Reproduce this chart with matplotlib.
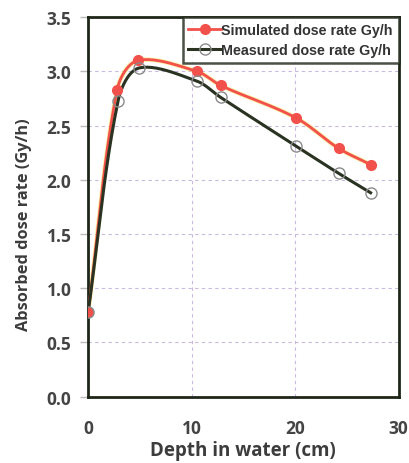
import matplotlib.pyplot as plt
import numpy as np

depth_sim = [0, 2.8, 4.8, 10.5, 12.8, 20.1, 24.2, 27.3]
dose_sim = [0.78, 2.83, 3.10, 3.00, 2.87, 2.57, 2.29, 2.14]
depth_meas = [0, 2.9, 4.9, 10.5, 12.8, 20.1, 24.2, 27.3]
dose_meas = [0.78, 2.73, 3.03, 2.91, 2.76, 2.31, 2.06, 1.88]
xticks = [0, 10, 20, 30]
yticks = [0.0, 0.5, 1.0, 1.5, 2.0, 2.5, 3.0, 3.5]


def gladka(x, y, sx=10.2, sy=108.0, n=25):
    """wygladzona linia (Catmull-Rom z parametryzacja dlugoscia cieciw)"""
    p = np.column_stack([np.asarray(x, float) * sx, np.asarray(y, float) * sy])
    d = np.linalg.norm(np.diff(p, axis=0), axis=1)
    m = np.zeros_like(p)
    m[0] = (p[1] - p[0]) / d[0]
    m[-1] = (p[-1] - p[-2]) / d[-1]
    for i in range(1, len(p) - 1):
        m[i] = (p[i + 1] - p[i - 1]) / (d[i - 1] + d[i])
    out = []
    t = np.linspace(0, 1, n)[:, None]
    for i in range(len(p) - 1):
        p1, p2 = p[i], p[i + 1]
        c1 = p1 + m[i] * d[i] / 3
        c2 = p2 - m[i + 1] * d[i] / 3
        seg = (1 - t) ** 3 * p1 + 3 * (1 - t) ** 2 * t * c1 + 3 * (1 - t) * t ** 2 * c2 + t ** 3 * p2
        out.append(seg if i == 0 else seg[1:])
    s = np.vstack(out)
    return s[:, 0] / sx, s[:, 1] / sy


fig = plt.figure(figsize=(4.1, 4.64), dpi=100)
ax = fig.add_axes([0.215, 0.143, 0.757, 0.818])

sx, sy = gladka(depth_sim, dose_sim)
mx, my = gladka(depth_meas, dose_meas)
ax.plot(sx, sy, color="#f5e04a", lw=3.2, alpha=0.5, zorder=2)
ax.plot(sx, sy, color="#f2504a", lw=2.0, zorder=3)
ax.plot(depth_sim, dose_sim, "o", color="#f2504a", ms=7, zorder=4)
ax.plot(mx, my, color="#2a3322", lw=2.2, zorder=3)
ax.plot(depth_meas, dose_meas, "o", mfc="none", mec="#8a8a8a", ms=8, mew=1.0, zorder=4)

h = [plt.Line2D([], [], color="#f2504a", lw=2, marker="o", ms=7),
     plt.Line2D([], [], color="#2a3322", lw=2.2, marker="o", mfc="none", mec="#8a8a8a", ms=8)]
l = ["Simulated dose rate Gy/h", "Measured dose rate Gy/h"]

ax.set_xlim(0, 30)
ax.set_ylim(0, 3.5)
ax.set_xticks(xticks)
ax.set_yticks(yticks)
ax.set_yticklabels(["%.1f" % v for v in yticks])
ax.grid(True, color="#c9b8e0", ls=(0, (3, 3)), lw=0.8)
for s in ax.spines.values():
    s.set_linewidth(2)
    s.set_color("#1e2618")
ax.tick_params(axis="y", length=6, color="#bbbbbb", width=1, pad=6)
ax.tick_params(axis="x", length=0, pad=16)
for t in ax.get_xticklabels() + ax.get_yticklabels():
    t.set_fontfamily("Open Sans")
    t.set_fontweight("bold")
    t.set_fontsize(12.5)
    t.set_color("#444444")

ax.set_xlabel("Depth in water (cm)", family="Open Sans", fontweight="bold",
              fontsize=13.5, color="#3c3c3c", labelpad=2)
ax.set_ylabel("Absorbed dose rate (Gy/h)", family="Open Sans", fontweight="bold",
              fontsize=11.8, color="#3c3c3c")
ax.yaxis.set_label_coords(-0.18, 0.457)

leg = ax.legend(h, l, loc="upper right", frameon=True, fancybox=False,
                prop={"family": "Liberation Sans", "weight": "bold", "size": 10.3},
                borderaxespad=0, handlelength=2.3, handletextpad=0.0,
                labelspacing=0.45, borderpad=0.4)
leg.get_frame().set_edgecolor("#1e2618")
leg.get_frame().set_linewidth(1.8)
for t in leg.get_texts():
    t.set_color("#333333")

fig.savefig("out.png", dpi=100)
